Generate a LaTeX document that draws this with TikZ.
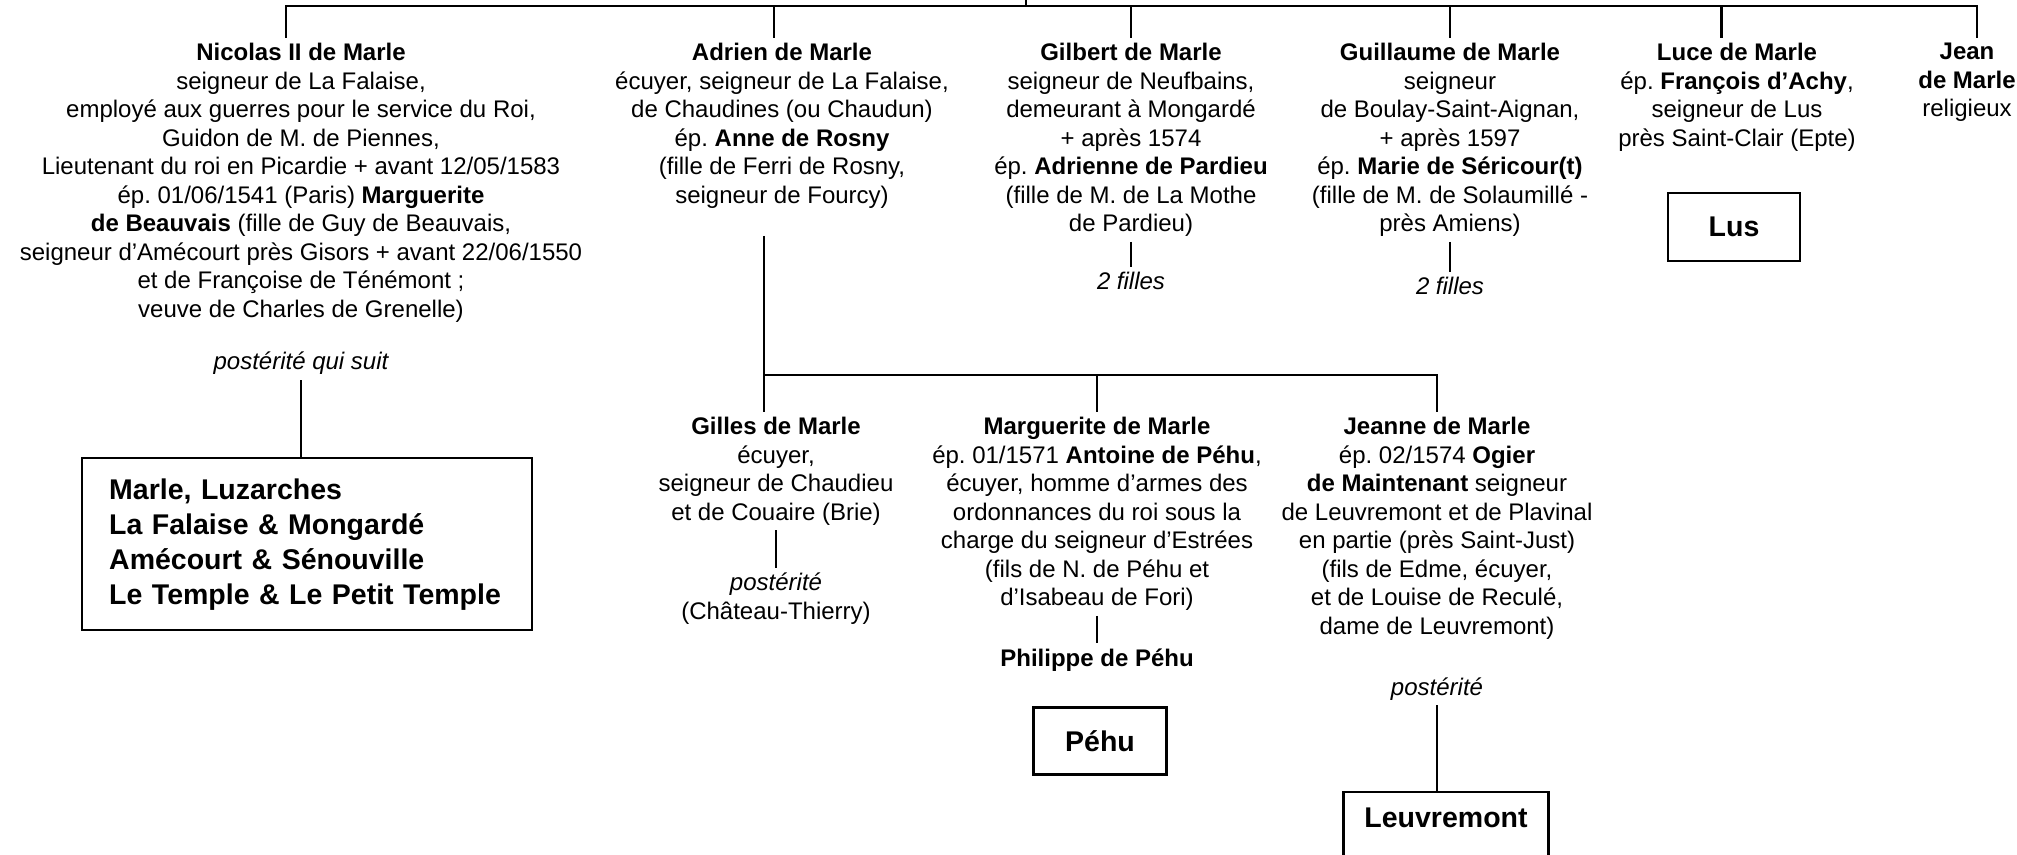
\documentclass[tikz,border=0pt]{standalone}
\usepackage{fontspec}
\setmainfont{Liberation Sans}
\usepackage{tikz}
\frenchspacing

\begin{document}
\begin{tikzpicture}[x=0.5pt, y=-0.5pt, line width=1.2pt]
\tikzset{
	person node/.style = {align=center, inner xsep=0pt, inner ysep=2pt, anchor=north, font=\fontsize{12}{14.25}\selectfont},
	issue node/.style = {inner sep=2pt, anchor=base, font=\fontsize{12}{14.25}\selectfont\itshape},
	house node/.style = {draw, inner sep=0pt, font=\fontsize{14.25}{17.5}\selectfont\bfseries},
}
\useasboundingbox (0,0) rectangle (2017,855);

\coordinate (0) at (1026,0);
\coordinate (0-j) at (1026,6);

\node(0-1)[person node] at (301,38){\textbf{Nicolas II de Marle}\\
	seigneur de La Falaise,\\
	employé aux guerres pour le service du Roi,\\
	Guidon de M. de Piennes,\\
	Lieutenant du roi en Picardie + avant 12/05/1583\\
	ép. 01/06/1541 (Paris) \textbf{Marguerite}\\
	\textbf{de Beauvais} (fille de Guy de Beauvais,\\
	seigneur d’Amécourt près Gisors + avant 22/06/1550\\
	et de Françoise de Ténémont ;\\
	veuve de Charles de Grenelle)};
\node(0-2)[person node] at (782,38){\textbf{Adrien de Marle}\\
	écuyer, seigneur de La Falaise,\\
	de Chaudines (ou Chaudun)\\
	ép. \textbf{Anne de Rosny}\\
	(fille de Ferri de Rosny,\\
	seigneur de Fourcy)};
\node(0-3)[person node] at (1131,38){\textbf{Gilbert de Marle}\\
	seigneur de Neufbains,\\
	demeurant à Mongardé\\
	+ après 1574\\
	ép. \textbf{Adrienne de Pardieu}\\
	(fille de M. de La Mothe\\
	de Pardieu)};
\node(0-4)[person node] at (1450,38){\textbf{Guillaume de Marle}\\
	seigneur\\
	de Boulay-Saint-Aignan,\\
	+ après 1597\\
	ép. \textbf{Marie de Séricour(t)}\\
	(fille de M. de Solaumillé -\\
	près Amiens)};
\node(0-5)[person node] at (1737,38){\textbf{Luce de Marle}\\
	ép. \textbf{François d’Achy},\\
	seigneur de Lus\\
	près Saint-Clair (Epte)};
\node(0-6)[person node] at (1967,38){\textbf{Jean}\\
	\textbf{de Marle}\\
	religieux};

\draw (0) -- (0-j);
\draw ([xshift=-7.5pt]0-1.north) -- ([xshift=-7.5pt]0-1.north |- 0-j) -- ([xshift=5pt]0-6.north |- 0-j) -- ([xshift=5pt]0-6.north);
\foreach \k/\s in {2/-4pt,3/0pt,4/0pt,5/-7.7pt}
	\draw ([xshift=\s]0-\k.north |- 0-j) -- ([xshift=\s]0-\k.north);

\node(0-1-1)[issue node] at (301,370){postérité qui suit};
\node(0-1-1-1)[house node, anchor=north west, align=left, text width=198pt, inner xsep=13.5pt, minimum height=86pt] at (81,457){Marle, Luzarches\\
	La Falaise \& Mongardé\\
	Amécourt \& Sénouville\\
	Le Temple \& Le Petit Temple\\[3pt]};
\draw (0-1-1.south) -- (0-1-1.south |- 0-1-1-1.north);

\node(0-3-1)[issue node] at (1131,290){2 filles};
\node(0-4-1)[issue node] at (1450,295){2 filles};
\draw (0-3.south) -- (0-3-1.north);
\draw (0-4.south) -- (0-4-1.north);

\node(0-5-1)[house node, minimum width=66pt, minimum height=34pt] at (1734,227){Lus\hspace{6pt}};

% enfants d'Adrien
\coordinate (0-2-b) at (764,236);
\coordinate (0-2-j) at (764,375);

\node(0-2-1)[person node] at (776,412){\textbf{Gilles de Marle}\\
	écuyer,\\
	seigneur de Chaudieu\\
	et de Couaire (Brie)};
\node(0-2-2)[person node] at (1097,412){\textbf{Marguerite de Marle}\\
	ép. 01/1571 \textbf{Antoine de Péhu},\\
	écuyer, homme d’armes des\\
	ordonnances du roi sous la\\
	charge du seigneur d’Estrées\\
	(fils de N. de Péhu et\\
	d’Isabeau de Fori)};
\node(0-2-3)[person node] at (1437,412){\textbf{Jeanne de Marle}\\
	ép. 02/1574 \textbf{Ogier}\\
	\textbf{de Maintenant} seigneur\\
	de Leuvremont et de Plavinal\\
	en partie (près Saint-Just)\\
	(fils de Edme, écuyer,\\
	et de Louise de Reculé,\\
	dame de Leuvremont)};

\draw (0-2-b) -- (0-2-b |- 0-2-1.north);
\draw (0-2-j) -| (0-2-3.north);
\draw (0-2-j -| 0-2-2.north) -- (0-2-2.north);

\node(0-2-1-1)[person node] at (776,568){\textit{postérité}\\(Château-Thierry)};
\draw (0-2-1.south) -- (0-2-1-1.north);

\node(0-2-2-1)[person node, anchor=base, font=\fontsize{12}{14.25}\selectfont\bfseries] at (1097,666){Philippe de Péhu};
\draw (0-2-2.south) -- (0-2-2-1.north);
\node(0-2-2-2)[house node, minimum width=66.5pt, minimum height=33.5pt] at (1100,741){Péhu\hspace{6pt}};

\node(0-2-3-1)[issue node] at (1437,695){postérité};
\node(0-2-3-1-1)[house node, anchor=north, minimum width=102.5pt, inner ysep=8pt, text depth=30pt] at (1446,791){Leuvremont};
\draw (0-2-3-1.south) -- (0-2-3-1.south |- 0-2-3-1-1.north);

\end{tikzpicture}
\end{document}
